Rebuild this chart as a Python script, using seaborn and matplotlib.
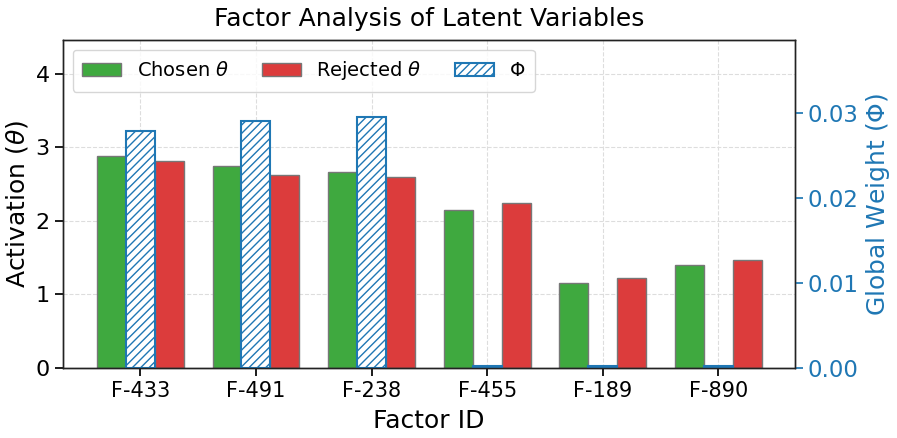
import numpy as np
import pandas as pd
import matplotlib
matplotlib.use("Agg")
import matplotlib.pyplot as plt
from matplotlib.patches import Patch
import seaborn as sns

factors = ["F-433", "F-491", "F-238", "F-455", "F-189", "F-890"]
chosen = [2.88, 2.74, 2.66, 2.15, 1.15, 1.40]
rejected = [2.81, 2.62, 2.60, 2.24, 1.22, 1.47]
phi = [0.0279, 0.0291, 0.0295, 0.0002, 0.0002, 0.0002]

GREEN = "#3fa93f"
RED = "#dc3c3c"
BLUE = "#1f77b4"

sns.set_theme(style="ticks")
plt.rcParams["font.family"] = ["DejaVu Sans"]
plt.rcParams["text.color"] = "black"
plt.rcParams["axes.labelcolor"] = "black"
plt.rcParams["xtick.color"] = "black"
plt.rcParams["ytick.color"] = "black"
plt.rcParams["hatch.linewidth"] = 1.0

levels = ["Chosen", "Phi", "Rejected"]
df_main = pd.DataFrame({
    "factor": factors * 2,
    "value": chosen + rejected,
    "series": ["Chosen"] * len(factors) + ["Rejected"] * len(factors),
})
df_phi = pd.DataFrame({"factor": factors, "value": phi, "series": ["Phi"] * len(factors)})

fig, ax = plt.subplots(figsize=(8.97, 4.38), dpi=100)
fig.subplots_adjust(left=0.070, right=0.886, top=0.909, bottom=0.160)

pal = {"Chosen": GREEN, "Rejected": RED, "Phi": "white"}
sns.barplot(data=df_main, x="factor", y="value", hue="series", hue_order=levels,
            order=factors, palette=pal, width=0.75, dodge=True, ax=ax,
            edgecolor="#777777", linewidth=1.0, legend=False, errorbar=None, saturation=1)
ax2 = ax.twinx()
sns.barplot(data=df_phi, x="factor", y="value", hue="series", hue_order=levels,
            order=factors, palette=pal, width=0.75, dodge=True, ax=ax2,
            edgecolor=BLUE, linewidth=1.5, legend=False, errorbar=None, saturation=1)
for p in ax2.patches:
    p.set_hatch("////")
    p.set_edgecolor(BLUE)

ax.set_ylim(0, 4.46)
ax2.set_ylim(0, 0.0386)
ax.set_xlim(-0.67, 5.66)
ax.set_yticks([0, 1, 2, 3, 4])
ax2.set_yticks([0.0, 0.01, 0.02, 0.03])
ax2.set_yticklabels(["0.00", "0.01", "0.02", "0.03"])

ax.grid(True, linestyle="--", color="#dddddd", linewidth=0.8)
ax.set_axisbelow(True)
ax2.grid(False)

ax.set_xlabel("Factor ID", fontsize=18, labelpad=6)
ax.set_ylabel(r"Activation ($\theta$)", fontsize=18)
ax2.set_ylabel(r"Global Weight ($\Phi$)", fontsize=18, color=BLUE)
ax.tick_params(axis="x", labelsize=15)
ax.tick_params(axis="y", labelsize=16)
ax2.tick_params(axis="y", labelsize=16.5, colors=BLUE)
ax.set_title("Factor Analysis of Latent Variables", fontsize=18, pad=10)

for a in (ax, ax2):
    for s in a.spines.values():
        s.set_color("#222222")
        s.set_linewidth(1.0)

handles = [
    Patch(facecolor=GREEN, edgecolor="#777777", label=r"Chosen $\theta$"),
    Patch(facecolor=RED, edgecolor="#777777", label=r"Rejected $\theta$"),
    Patch(facecolor="white", edgecolor=BLUE, hatch="////", linewidth=1.5, label=r"$\Phi$"),
]
ax2.legend(handles=handles, loc="upper left", ncol=3, fontsize=14, frameon=True,
           handlelength=2.0, handleheight=0.7, columnspacing=1.7, borderpad=0.5)

fig.savefig("out.png", dpi=100)
